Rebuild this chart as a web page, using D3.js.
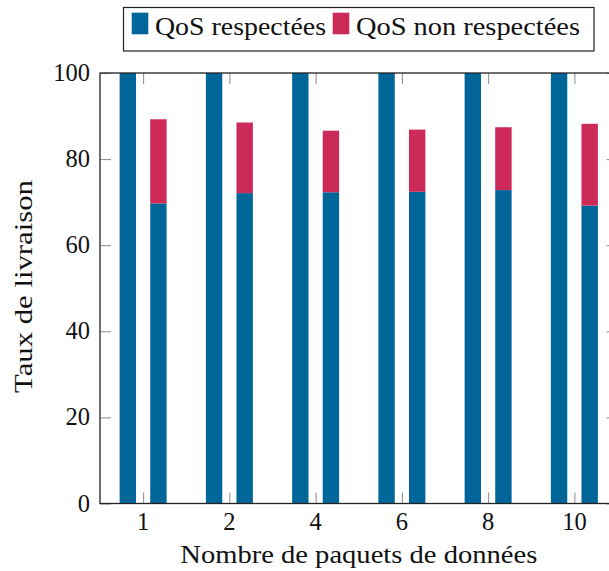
<!DOCTYPE html>
<html>
<head>
<meta charset="utf-8">
<script src="https://cdn.jsdelivr.net/npm/d3@7/dist/d3.min.js"></script>
</head>
<body style="margin:0">
<svg id="chart" width="609" height="571"></svg>
<script>
// Delivery rate by number of data packets
const categories = ["1", "2", "4", "6", "8", "10"];
// left bar of each pair
const reference = [100, 100, 100, 100, 100, 100];
// right bar of each pair: stacked
const qosMet = [69.7, 72.1, 72.3, 72.4, 72.8, 69.2];
const qosMissed = [19.55, 16.4, 14.3, 14.45, 14.6, 19.0];
const yTicks = [0, 20, 40, 60, 80, 100];
const seriesNames = ["QoS respectées", "QoS non respectées"];
const colors = ["#006699", "#cc2a59"];

const FONT = '"Liberation Serif", monospace';
const svg = d3.select("#chart");
const plotLeft = 100, plotRight = 617.5, plotTop = 73, plotBottom = 503.5;

const x = d3.scaleLinear().domain([-0.5, categories.length - 0.5]).range([plotLeft, plotRight]);
const y = d3.scaleLinear().domain([0, 100]).range([plotBottom, plotTop]);
const barW = 16.4, offset = 15.3;

// bars
const g = svg.append("g");
g.selectAll("rect.ref").data(reference).join("rect")
  .attr("class", "ref")
  .attr("x", (d, i) => x(i) - offset - barW / 2)
  .attr("width", barW)
  .attr("y", d => y(d))
  .attr("height", d => y(0) - y(d))
  .attr("fill", colors[0]);

const stacked = qosMet.map((m, i) => ({ i, m, n: qosMissed[i] }));
g.selectAll("rect.met").data(stacked).join("rect")
  .attr("class", "met")
  .attr("x", d => x(d.i) + offset - barW / 2)
  .attr("width", barW)
  .attr("y", d => y(d.m))
  .attr("height", d => y(0) - y(d.m))
  .attr("fill", colors[0]);
g.selectAll("rect.missed").data(stacked).join("rect")
  .attr("class", "missed")
  .attr("x", d => x(d.i) + offset - barW / 2)
  .attr("width", barW)
  .attr("y", d => y(d.m + d.n))
  .attr("height", d => y(d.m) - y(d.m + d.n))
  .attr("fill", colors[1]);

// inward ticks on all four sides
const tickLen = 11, tickColor = "#8a8a8a";
const idx = categories.map((c, i) => i);
const bottomAxis = d3.axisBottom(x).tickValues(idx).tickSize(-tickLen).tickFormat("");
const topAxis = d3.axisTop(x).tickValues(idx).tickSize(-tickLen).tickFormat("");
const leftAxis = d3.axisLeft(y).tickValues(yTicks).tickSize(-tickLen).tickFormat("");
const rightAxis = d3.axisRight(y).tickValues(yTicks).tickSize(-tickLen).tickFormat("");
[[bottomAxis, `translate(0,${plotBottom})`], [topAxis, `translate(0,${plotTop})`],
 [leftAxis, `translate(${plotLeft},0)`], [rightAxis, `translate(${plotRight},0)`]].forEach(([ax, tr]) => {
  const a = svg.append("g").attr("transform", tr).call(ax);
  a.select(".domain").remove();
  a.selectAll(".tick line").attr("stroke", tickColor).attr("stroke-width", 1);
});

// frame
svg.append("rect")
  .attr("x", plotLeft).attr("y", plotTop)
  .attr("width", plotRight - plotLeft).attr("height", plotBottom - plotTop)
  .attr("fill", "none").attr("stroke", "#222").attr("stroke-width", 1.3);

// tick labels
const fs = 24.5;
svg.append("g").selectAll("text").data(categories).join("text")
  .attr("x", (d, i) => x(i)).attr("y", 530)
  .attr("text-anchor", "middle").attr("font-size", fs)
  .style("font-family", FONT).attr("fill", "#111")
  .text(d => d);
svg.append("g").selectAll("text").data(yTicks).join("text")
  .attr("x", 90).attr("y", d => y(d) + 8)
  .attr("text-anchor", "end").attr("font-size", fs)
  .style("font-family", FONT).attr("fill", "#111")
  .text(d => d);

// axis titles
svg.append("text")
  .attr("x", (plotLeft + plotRight) / 2).attr("y", 563)
  .attr("text-anchor", "middle").attr("font-size", fs)
  .style("font-family", FONT).attr("fill", "#111")
  .attr("textLength", 357).attr("lengthAdjust", "spacingAndGlyphs")
  .text("Nombre de paquets de données");
svg.append("text")
  .attr("transform", "translate(32,286.5) rotate(-90)")
  .attr("text-anchor", "middle").attr("font-size", fs)
  .style("font-family", FONT).attr("fill", "#111")
  .attr("textLength", 213).attr("lengthAdjust", "spacingAndGlyphs")
  .text("Taux de livraison");

// legend
const lg = svg.append("g");
lg.append("rect").attr("x", 123.5).attr("y", 7.5).attr("width", 470.5).attr("height", 43.5)
  .attr("fill", "#fff").attr("stroke", "#222").attr("stroke-width", 1.2);
const legendItems = [
  { name: seriesNames[0], color: colors[0], sx: 131.7, tx: 155, tw: 171 },
  { name: seriesNames[1], color: colors[1], sx: 332.7, tx: 356, tw: 224 }
];
legendItems.forEach(it => {
  lg.append("rect").attr("x", it.sx).attr("y", 12.7).attr("width", 16.6).attr("height", 21.6)
    .attr("fill", it.color);
  lg.append("text").attr("x", it.tx).attr("y", 35).attr("font-size", fs)
    .style("font-family", FONT).attr("fill", "#111")
    .attr("textLength", it.tw).attr("lengthAdjust", "spacingAndGlyphs")
    .text(it.name);
});
</script>
</body>
</html>
